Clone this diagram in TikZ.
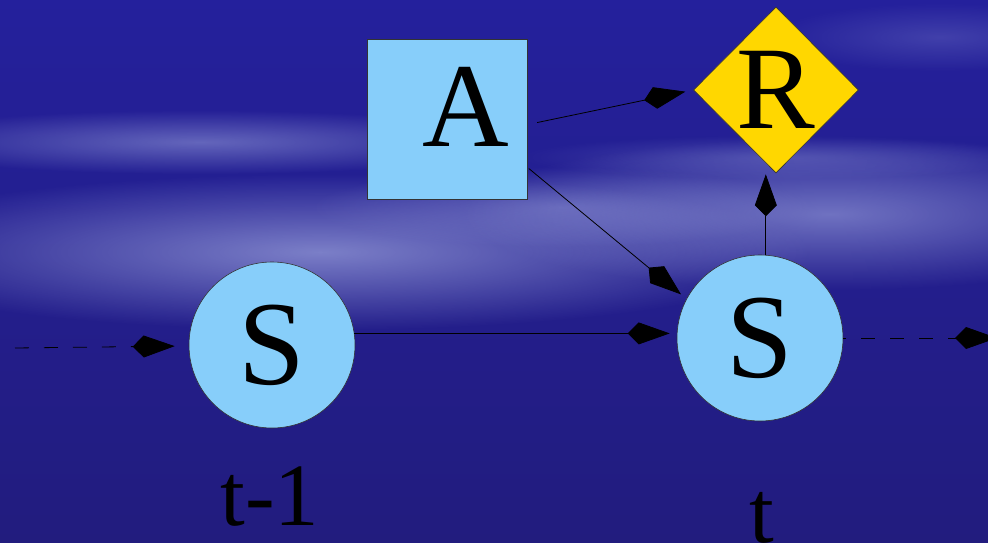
\documentclass[tikz,border=0pt]{standalone}
\usepackage{fontspec}
\setmainfont{Liberation Serif}
\usetikzlibrary{arrows.meta,positioning,shapes.geometric,fadings}
\definecolor{skydark}{HTML}{24209C}
\definecolor{skynavy}{HTML}{221C7E}
\definecolor{cloudlight}{HTML}{A6AEE4}
\definecolor{nodeblue}{HTML}{87CEFA}
\definecolor{rewardgold}{HTML}{FFD700}
\tikzfading[name=cloudfade, inner color=transparent!10, outer color=transparent!100]

\begin{document}
\begin{tikzpicture}[
  x=1pt, y=1pt,
  >={Kite[length=42pt, width=22pt, inset=11pt]},
  line width=0.8pt,
  state/.style={circle, draw=black!80, line width=0.6pt, fill=nodeblue, minimum size=166pt, inner sep=0pt, font=\fontsize{120}{120}\selectfont},
  actbox/.style={rectangle, draw=black!80, line width=0.6pt, fill=nodeblue, minimum size=160pt, inner sep=0pt},
  reward/.style={diamond, draw=black!80, line width=0.6pt, fill=rewardgold, minimum width=165pt, minimum height=166pt, inner sep=0pt, font=\fontsize{118}{118}\selectfont},
  letter/.style={inner sep=0pt, font=\fontsize{120}{120}\selectfont},
  steplabel/.style={inner sep=0pt, anchor=base, font=\fontsize{89}{89}\selectfont},
  flow/.style={->, draw=black, line width=0.8pt},
  cloud/.style={fill=cloudlight, path fading=cloudfade}
]
  % sky
  \useasboundingbox (0,0) rectangle (988,542);
  \shade[top color=skydark, bottom color=skynavy] (0,0) rectangle (988,542);
  \fill[cloud, opacity=0.55] (200,400) ellipse (330 and 32);
  \fill[cloud, opacity=0.75] (320,290) ellipse (490 and 78);
  \fill[cloud, opacity=0.4] (560,335) ellipse (250 and 40);
  \fill[cloud, opacity=0.65] (830,328) ellipse (370 and 76);
  \fill[cloud, opacity=0.3] (780,385) ellipse (260 and 22);
  \fill[cloud, opacity=0.25] (940,505) ellipse (170 and 34);

  % nodes
  \node[state] (s1) at (272,197) {S};
  \node[state] (s2) at (760,204) {S};
  \node[actbox] (a) at (447,423) {};
  \node[letter] (alabel) at ([shift={(19,12)}]a.center) {A};
  \node[reward] (r) at (776,452) {R};
  \node[steplabel] (tprev) at (270,17) {t-1};
  \node[steplabel] (tnow) at (762,0) {t};

  \coordinate (inl) at (15,194);
  \coordinate (outr) at (997,204);

  % links
  \draw[flow, dash pattern=on 14pt off 15pt, shorten >=14pt] (inl) -- (s1);
  \draw[flow, shorten >=7pt] (s1.8) -- (s1.8 -| s2.west);
  \draw[flow, dash pattern=on 14pt off 15pt, dash phase=11pt] (s2.east) -- (outr);
  \draw[flow, shorten <=10pt, shorten >=8pt] (a.-4) -- (r.west);
  \draw[flow, shorten <=2pt, shorten >=7pt] (a.-31.5) -- (s2.152);
  \draw[flow, shorten >=1pt] (s2.86) -- (s2.86 |- r.south);
\end{tikzpicture}
\end{document}
